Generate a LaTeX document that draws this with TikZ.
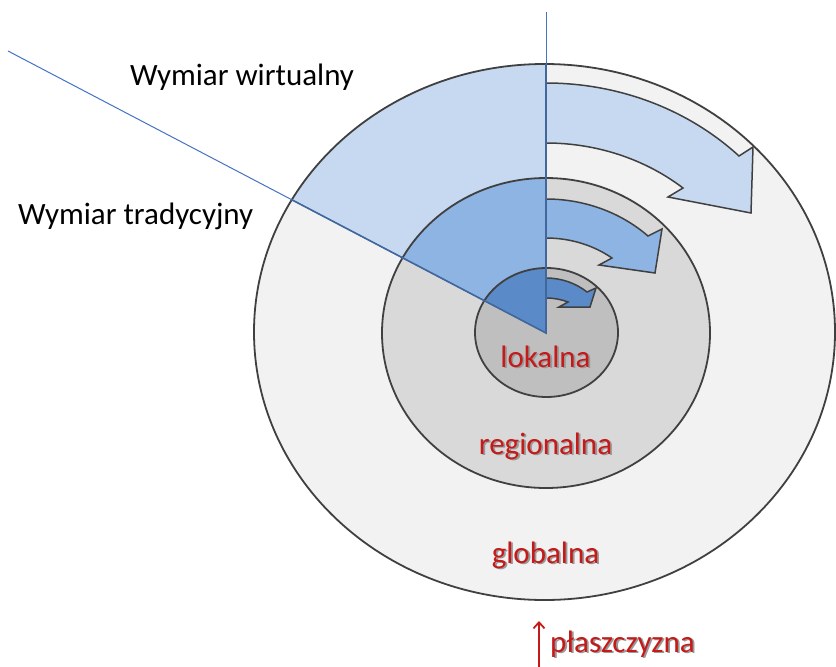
\documentclass[tikz,border=0pt]{standalone}
\usepackage{fontspec}
\setmainfont{Carlito}
\usetikzlibrary{arrows.meta}
\definecolor{ringOut}{HTML}{F2F2F2}
\definecolor{ringMid}{HTML}{D9D9D9}
\definecolor{ringIn}{HTML}{BFBFBF}
\definecolor{blueOut}{HTML}{C6D9F1}
\definecolor{blueMid}{HTML}{8EB4E3}
\definecolor{blueIn}{HTML}{5A8AC8}
\definecolor{edgeGray}{HTML}{404040}
\definecolor{axisBlue}{HTML}{4472C4}
\definecolor{axisDark}{HTML}{41679C}
\definecolor{labelRed}{HTML}{C41A1A}
\newcommand{\shadowedtext}[1]{\makebox[0pt][l]{\kern1.8pt\raisebox{-1.8pt}{\textcolor{black!40}{#1}}}\textcolor{labelRed}{#1}}
\tikzset{
  ringline/.style={draw=edgeGray, line width=1.8pt},
  arrowshape/.style={draw=edgeGray, line width=1.5pt, line join=miter},
  bigtext/.style={font=\fontsize{31}{37}\selectfont, inner sep=0pt},
  redlabel/.style={bigtext},
}
\newcommand{\wedgepath}{(546,333) -- (546,-5) -- (-5,-5) -- (-5,43.9) -- cycle}
\begin{document}
\begin{tikzpicture}[x=1pt,y=-1pt]
\useasboundingbox (0,0) rectangle (836,667);
\coordinate (C) at (546,333);
\coordinate (L) at (8,51);
\coordinate (T) at (546,12);
% outer ring
\fill[ringOut] (544.5,332) ellipse [x radius=290.5pt, y radius=268pt];
\begin{scope}
  \clip \wedgepath;
  \fill[blueOut] (544.5,332) ellipse [x radius=290.5pt, y radius=268pt];
\end{scope}
\draw[ringline] (544.5,332) ellipse [x radius=290.5pt, y radius=268pt];
% middle ring
\fill[ringMid] (546,333) ellipse [x radius=164pt, y radius=155pt];
\begin{scope}
  \clip \wedgepath;
  \fill[blueMid] (546,333) ellipse [x radius=164pt, y radius=155pt];
\end{scope}
\draw[ringline] (546,333) ellipse [x radius=164pt, y radius=155pt];
% inner ring
\fill[ringIn] (546.5,332.5) ellipse [x radius=71.5pt, y radius=64.5pt];
\begin{scope}
  \clip \wedgepath;
  \fill[blueIn] (546.5,332.5) ellipse [x radius=71.5pt, y radius=64.5pt];
\end{scope}
\draw[ringline] (546.5,332.5) ellipse [x radius=71.5pt, y radius=64.5pt];
% curved arrows
\path[arrowshape, fill=blueOut] (546,83) .. controls (618.4,83) and (687.8,109.1) .. (739,156) -- (753,147) -- (751,213) -- (668,197) -- (683,188) .. controls (644.7,158.9) and (596.2,143) .. (546,143) -- cycle;
\path[arrowshape, fill=blueMid] (546,199) .. controls (584,199) and (620.5,212.2) .. (648,236) -- (662,229) -- (655,273) -- (599,265) -- (612,258) .. controls (593.1,245) and (569.9,238) .. (546,238) -- cycle;
\path[arrowshape, fill=blueIn] (546,278) .. controls (561.1,278) and (575.7,283) .. (587,292) -- (596,288) -- (590,307) -- (559,307) -- (568,302) .. controls (561.2,299.4) and (553.7,298) .. (546,298) -- cycle;
% axes
\draw[axisBlue, line width=1pt] (L) -- (C);
\draw[axisBlue, line width=1pt] (T) -- (C);
\begin{scope}
  \clip (544.5,332) ellipse [x radius=290.5pt, y radius=268pt];
  \draw[axisDark, line width=1.6pt] (L) -- (C) -- (T);
\end{scope}
% labels
\node[bigtext, anchor=base west] (wirt) at (130,85) {Wymiar wirtualny};
\node[bigtext, anchor=base west] (trad) at (18,224) {Wymiar tradycyjny};
\node[redlabel, anchor=base] (lok) at (545.5,367) {\shadowedtext{lokalna}};
\node[redlabel, anchor=base] (reg) at (545.5,454) {\shadowedtext{regionalna}};
\node[redlabel, anchor=base] (glob) at (545.5,563) {\shadowedtext{globalna}};
\node[redlabel, anchor=base west] (plasz) at (550,652) {\shadowedtext{płaszczyzna}};
\coordinate (arrStart) at (539,667);
\coordinate (arrEnd) at (539,621);
\draw[labelRed, line width=2.6pt, -{Straight Barb[length=6pt, width=11pt, line width=1.8pt]}] (arrStart) -- (arrEnd);
\end{tikzpicture}
\end{document}
